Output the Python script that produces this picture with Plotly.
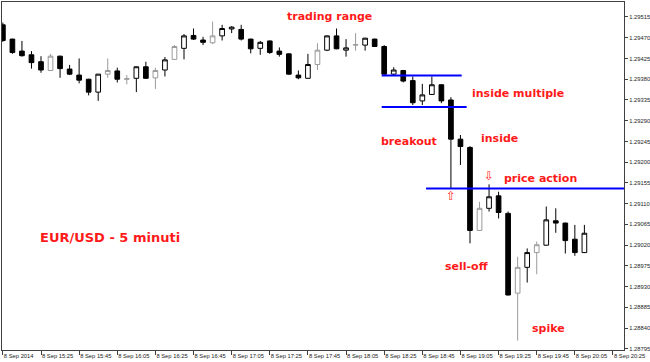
import pandas as pd
import plotly.graph_objects as go

# ---------------- data (EUR/USD, 5-minute candles, 8 Sep 2014) ----------------
start_time = "2014-09-08 15:05"
n_bars = 62

opens = [1.29498, 1.29467, 1.29441, 1.29433, 1.29418, 1.29399, 1.29430, 1.29402, 1.29389, 1.29380,
         1.29352, 1.29391, 1.29398, 1.29380, 1.29382, 1.29407, 1.29383, 1.29400, 1.29423, 1.29447,
         1.29475, 1.29465, 1.29459, 1.29474, 1.29489, 1.29488, 1.29467, 1.29447, 1.29463, 1.29441,
         1.29435, 1.29389, 1.29382, 1.29412, 1.29443, 1.29474, 1.29443, 1.29454, 1.29454, 1.29467,
         1.29451, 1.29391, 1.29399, 1.29377, 1.29333, 1.29347, 1.29368, 1.29335, 1.29250, 1.29232,
         1.29052, 1.29100, 1.29127, 1.29089, 1.28916, 1.28972, 1.29004, 1.29020, 1.29073, 1.29068,
         1.29033, 1.29004]
highs = [1.29503, 1.29468, 1.29463, 1.29441, 1.29430, 1.29435, 1.29431, 1.29411, 1.29425, 1.29381,
         1.29391, 1.29425, 1.29405, 1.29389, 1.29408, 1.29418, 1.29405, 1.29428, 1.29454, 1.29478,
         1.29490, 1.29472, 1.29505, 1.29498, 1.29495, 1.29498, 1.29468, 1.29463, 1.29464, 1.29449,
         1.29436, 1.29399, 1.29435, 1.29458, 1.29475, 1.29490, 1.29467, 1.29480, 1.29470, 1.29468,
         1.29454, 1.29406, 1.29400, 1.29386, 1.29370, 1.29386, 1.29369, 1.29341, 1.29259, 1.29235,
         1.29114, 1.29152, 1.29136, 1.29093, 1.28995, 1.29013, 1.29028, 1.29104, 1.29100, 1.29069,
         1.29064, 1.29064]
lows = [1.29461, 1.29435, 1.29429, 1.29403, 1.29394, 1.29398, 1.29383, 1.29389, 1.29371, 1.29345,
        1.29333, 1.29383, 1.29373, 1.29369, 1.29352, 1.29381, 1.29359, 1.29386, 1.29423, 1.29423,
        1.29465, 1.29454, 1.29456, 1.29464, 1.29480, 1.29464, 1.29436, 1.29433, 1.29435, 1.29429,
        1.29390, 1.29380, 1.29381, 1.29400, 1.29441, 1.29445, 1.29429, 1.29442, 1.29442, 1.29450,
        1.29389, 1.29389, 1.29373, 1.29324, 1.29324, 1.29346, 1.29328, 1.29143, 1.29194, 1.29024,
        1.29051, 1.29093, 1.29078, 1.28911, 1.28813, 1.28939, 1.28957, 1.29019, 1.29047, 1.29002,
        1.28997, 1.29003]
closes = [1.29464, 1.29438, 1.29431, 1.29416, 1.29400, 1.29430, 1.29403, 1.29391, 1.29378, 1.29352,
          1.29391, 1.29399, 1.29380, 1.29381, 1.29407, 1.29382, 1.29399, 1.29422, 1.29451, 1.29474,
          1.29467, 1.29460, 1.29474, 1.29490, 1.29493, 1.29467, 1.29446, 1.29460, 1.29438, 1.29434,
          1.29391, 1.29383, 1.29412, 1.29443, 1.29474, 1.29446, 1.29448, 1.29455, 1.29469, 1.29451,
          1.29391, 1.29400, 1.29376, 1.29329, 1.29346, 1.29368, 1.29333, 1.29250, 1.29234, 1.29052,
          1.29100, 1.29125, 1.29091, 1.28912, 1.28972, 1.29004, 1.29021, 1.29075, 1.29068, 1.29030,
          1.29004, 1.29046]

# bars drawn with a grey outline in the original
grey_bars = [5, 11, 13, 16, 18, 22, 33, 37, 50, 54, 56]

# horizontal levels: price, first bar, last bar (fractional bar index)
level_prices = [1.29388, 1.29320, 1.29143]
level_from = [39.74, 39.74, 44.39]
level_to = [48.13, 48.65, 66.0]

# signal arrows: bar index, price, glyph
signal_bars = [47, 51]
signal_prices = [1.29125, 1.29169]
signal_glyphs = ["\u21e7", "\u21e9"]

y_ticks = [1.28795, 1.28840, 1.28885, 1.28930, 1.28975, 1.29020, 1.29065, 1.29110, 1.29155,
           1.29200, 1.29245, 1.29290, 1.29335, 1.29380, 1.29425, 1.29470, 1.29515]
x_tick_labels = ["8 Sep 2014", "8 Sep 15:25", "8 Sep 15:45", "8 Sep 16:05", "8 Sep 16:25",
                 "8 Sep 16:45", "8 Sep 17:05", "8 Sep 17:25", "8 Sep 17:45", "8 Sep 18:05",
                 "8 Sep 18:25", "8 Sep 18:45", "8 Sep 19:05", "8 Sep 19:25", "8 Sep 19:45",
                 "8 Sep 20:05", "8 Sep 20:25"]

# ---------------- figure ----------------
W, H = 650, 362
L, R, T, B = 2, 26, 2, 12

t0 = pd.Timestamp(start_time)
bar = pd.Timedelta(minutes=5)
times = pd.date_range(start_time, periods=n_bars, freq="5min")
x_tick_vals = [t0 + i * 4 * bar for i in range(len(x_tick_labels))]

main_idx = [i for i in range(n_bars) if i not in grey_bars]

def sub(arr, idx):
    return [arr[i] for i in idx]

fig = go.Figure()
fig.add_trace(go.Candlestick(
    x=sub(times, main_idx), open=sub(opens, main_idx), high=sub(highs, main_idx),
    low=sub(lows, main_idx), close=sub(closes, main_idx),
    increasing=dict(line=dict(color="black", width=1), fillcolor="white"),
    decreasing=dict(line=dict(color="black", width=1), fillcolor="black"),
    whiskerwidth=0, showlegend=False, hoverinfo="skip"))
fig.add_trace(go.Candlestick(
    x=sub(times, grey_bars), open=sub(opens, grey_bars), high=sub(highs, grey_bars),
    low=sub(lows, grey_bars), close=sub(closes, grey_bars),
    increasing=dict(line=dict(color="#9a9a9a", width=1), fillcolor="white"),
    decreasing=dict(line=dict(color="#9a9a9a", width=1), fillcolor="#9a9a9a"),
    whiskerwidth=0, showlegend=False, hoverinfo="skip"))

for p, a, b in zip(level_prices, level_from, level_to):
    fig.add_trace(go.Scatter(x=[t0 + a * bar, t0 + b * bar], y=[p, p], mode="lines",
                             line=dict(color="#0000ff", width=2), showlegend=False,
                             hoverinfo="skip"))

fig.add_trace(go.Scatter(x=[times[i] for i in signal_bars], y=signal_prices, mode="text",
                         text=signal_glyphs,
                         textfont=dict(family="DejaVu Sans", size=12, color="#ff2020"),
                         showlegend=False, hoverinfo="skip"))

# plot-area pixel geometry
pw, ph = W - L - R, H - T - B
px_per_bar = 9.533
first_bar_px = 2.87 - L
x_start = t0 - (first_bar_px / px_per_bar) * bar
x_end = t0 + ((pw - first_bar_px) / px_per_bar) * bar

def paper(px, py):
    return (px - L) / pw, (H - B - py) / ph

labels = [("trading range", 330, 16, 11), ("inside multiple", 518, 93, 11),
          ("breakout", 409, 141, 11), ("inside", 499, 138, 11),
          ("price action", 540, 178, 11), ("sell-off", 466, 266, 11),
          ("spike", 548, 328, 11), ("EUR/USD - 5 minuti", 110, 238, 13)]
for txt, px, py, fs in labels:
    xp, yp = paper(px, py)
    fig.add_annotation(x=xp, y=yp, xref="paper", yref="paper", text=txt, showarrow=False,
                       xanchor="center", yanchor="middle",
                       font=dict(family="DejaVu Sans", size=fs, color="#ff1a1a", weight="bold"))

tick_font = dict(family="Liberation Sans", size=5.8, color="#222222")
fig.update_layout(
    width=W, height=H, margin=dict(l=L, r=R, t=T, b=B, pad=0, autoexpand=False),
    paper_bgcolor="white", plot_bgcolor="white", showlegend=False,
    xaxis=dict(type="date", range=[x_start, x_end], rangeslider=dict(visible=False),
               tickvals=x_tick_vals, ticktext=x_tick_labels, ticks="outside", ticklen=4,
               tickcolor="#404040", tickfont=tick_font, ticklabelposition="outside right",
               tickangle=0, automargin=False,
               showgrid=False, zeroline=False, showline=True, mirror=True,
               linecolor="#404040", linewidth=1, fixedrange=True),
    yaxis=dict(side="right", range=[1.287927, 1.295475], tickvals=y_ticks,
               tickformat=".5f", ticks="outside", ticklen=3, tickcolor="#404040",
               tickfont=tick_font, showgrid=False, zeroline=False, showline=True,
               automargin=False,
               mirror=True, linecolor="#404040", linewidth=1, fixedrange=True),
)

fig.write_html("out.html", config={"displayModeBar": False})
